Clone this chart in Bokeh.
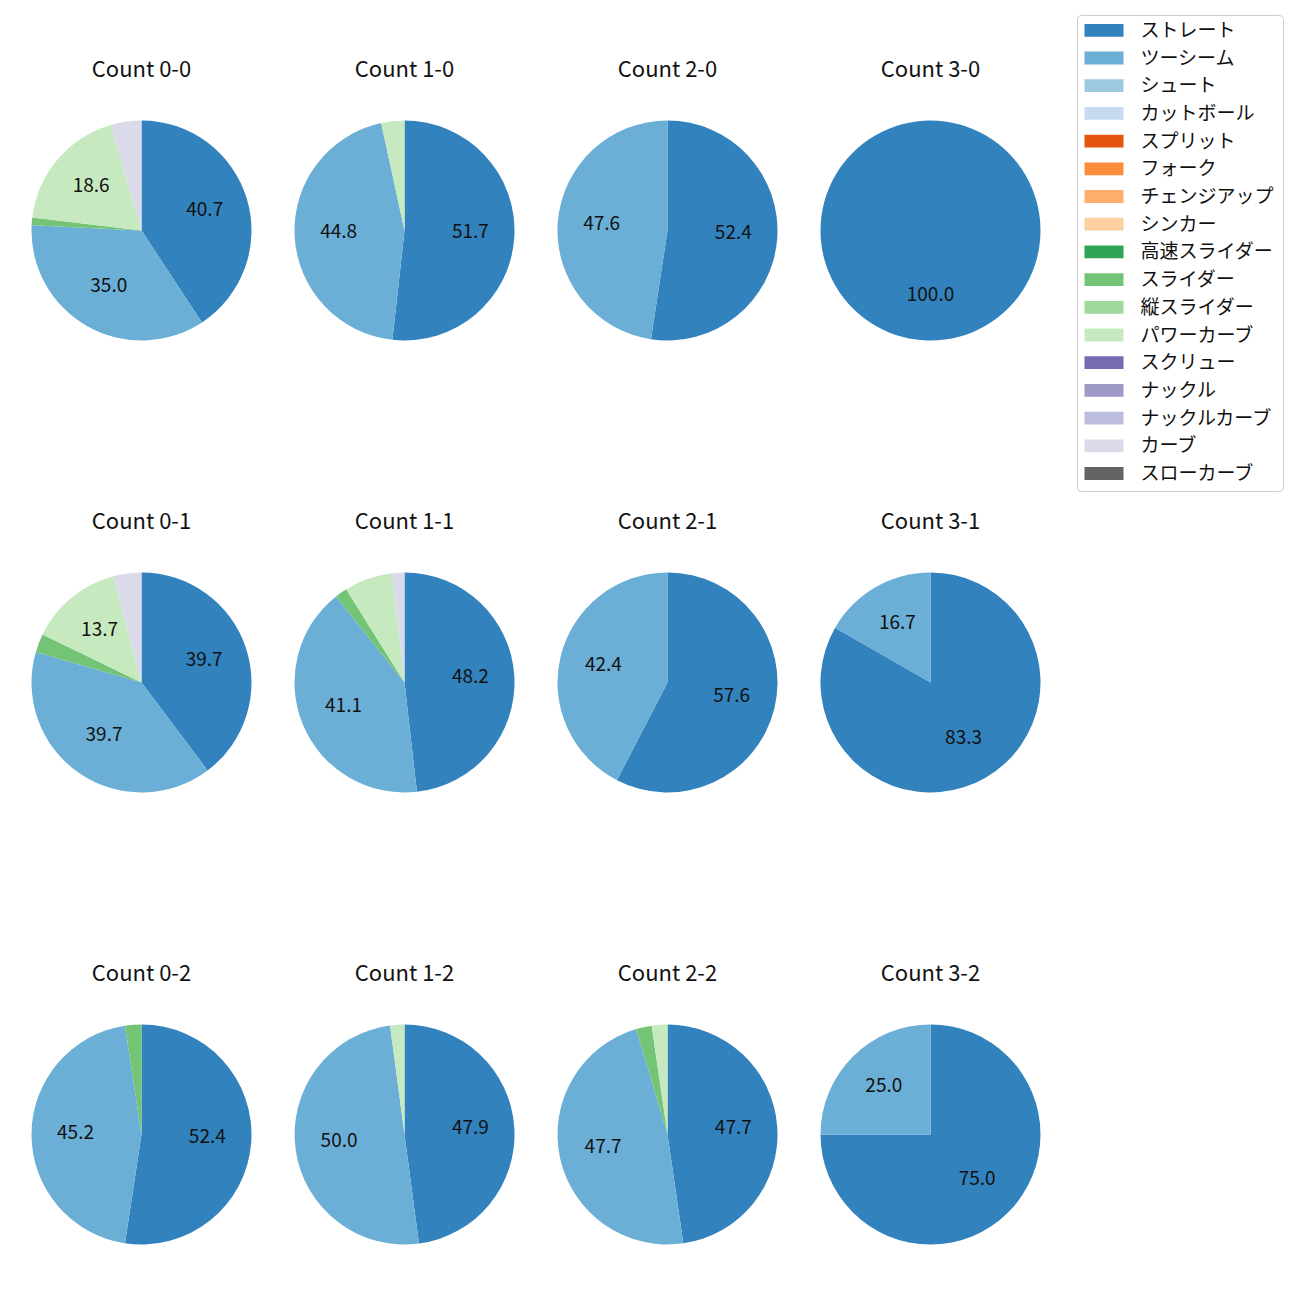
import math
from bokeh.plotting import figure
from bokeh.models import ColumnDataSource, Range1d
from bokeh.core.properties import value
from bokeh.embed import file_html
from bokeh.resources import INLINE

# ---------------- data ----------------
count_labels = ["0-0", "1-0", "2-0", "3-0",
                "0-1", "1-1", "2-1", "3-1",
                "0-2", "1-2", "2-2", "3-2"]

pitch_types = ["ストレート", "ツーシーム", "シュート", "カットボール", "スプリット",
               "フォーク", "チェンジアップ", "シンカー", "高速スライダー", "スライダー",
               "縦スライダー", "パワーカーブ", "スクリュー", "ナックル", "ナックルカーブ",
               "カーブ", "スローカーブ"]

pitch_colors = ["#3182bd", "#6baed6", "#9ecae1", "#c6dbef", "#e6550d",
                "#fd8d3c", "#fdae6b", "#fdd0a2", "#31a354", "#74c476",
                "#a1d99b", "#c7e9c0", "#756bb1", "#9e9ac8", "#bcbddc",
                "#dadaeb", "#636363"]

# share (%) of each pitch type per count, in count_labels order
straight    = [40.7, 51.7, 52.4, 100.0, 39.7, 48.2, 57.6, 83.3, 52.4, 47.9, 47.7, 75.0]
two_seam    = [35.0, 44.8, 47.6, 0.0, 39.7, 41.1, 42.4, 16.7, 45.2, 50.0, 47.7, 25.0]
slider      = [1.1, 0.0, 0.0, 0.0, 2.7, 1.8, 0.0, 0.0, 2.4, 0.0, 2.3, 0.0]
power_curve = [18.6, 3.4, 0.0, 0.0, 13.7, 7.1, 0.0, 0.0, 0.0, 2.1, 2.3, 0.0]
curve       = [4.5, 0.0, 0.0, 0.0, 4.1, 1.8, 0.0, 0.0, 0.0, 0.0, 0.0, 0.0]

zeros = [0.0] * len(count_labels)
shares = {name: zeros for name in pitch_types}
shares["ストレート"] = straight
shares["ツーシーム"] = two_seam
shares["スライダー"] = slider
shares["パワーカーブ"] = power_curve
shares["カーブ"] = curve

# ---------------- layout ----------------
FONT = value("Noto Sans CJK JP")
W = H = 1284
col_x = [141, 404, 667, 930]
row_y = [1300 - 230, 1300 - 682, 1300 - 1134]
R = 110
TITLE_OFF = 164
LABEL_MIN = 10.0
TEXT_NUDGE = 3

p = figure(width=W, height=H, x_range=Range1d(0, 1284), y_range=Range1d(16, 1300),
           output_backend="svg", toolbar_location=None,
           x_axis_location=None, y_axis_location=None, min_border=0,
           outline_line_color=None, background_fill_color="white",
           border_fill_color="white")
p.grid.visible = False

centers = []
for i, c in enumerate(count_labels):
    centers.append((col_x[i % 4], row_y[i // 4]))

totals = [sum(shares[n][i] for n in pitch_types) for i in range(len(count_labels))]

wedge_data = {n: dict(x=[], y=[], start=[], end=[]) for n in pitch_types}
lab = dict(x=[], y=[], text=[])
cum = [0.0] * len(count_labels)
for n in pitch_types:
    for i in range(len(count_labels)):
        v = shares[n][i]
        if v <= 0:
            continue
        tot = totals[i]
        a0 = math.pi / 2 - 2 * math.pi * cum[i] / tot
        cum[i] += v
        a1 = math.pi / 2 - 2 * math.pi * cum[i] / tot
        if a0 - a1 >= 2 * math.pi - 1e-9:
            a1 = a0 - 2 * math.pi + 1e-4
        cx, cy = centers[i]
        d = wedge_data[n]
        d["x"].append(cx); d["y"].append(cy)
        d["start"].append(a0); d["end"].append(a1)
        if v / tot * 100 >= LABEL_MIN:
            mid = (a0 + a1) / 2
            lab["x"].append(cx + 0.6 * R * math.cos(mid))
            lab["y"].append(cy + 0.6 * R * math.sin(mid) + TEXT_NUDGE)
            lab["text"].append(f"{v:.1f}")

for n, col in zip(pitch_types, pitch_colors):
    d = wedge_data[n]
    if not d["x"]:
        continue
    p.wedge(x="x", y="y", radius=R, start_angle="start", end_angle="end",
            direction="clock", fill_color=col, line_color=None,
            source=ColumnDataSource(d))

p.text(x="x", y="y", text="text", source=ColumnDataSource(lab),
       text_font=FONT, text_font_size="19px", text_color="#111111",
       text_align="center", text_baseline="middle")

# titles
tsrc = ColumnDataSource(dict(x=[c[0] for c in centers],
                             y=[c[1] + TITLE_OFF for c in centers],
                             text=[f"Count {c}" for c in count_labels]))
p.text(x="x", y="y", text="text", source=tsrc, text_font=FONT,
       text_font_size="22px", text_color="#111111",
       text_align="center", text_baseline="middle")

# legend
LEG_L, LEG_R, LEG_T, LEG_B = 1077, 1283, 1300 - 15, 1300 - 491
p.quad(left=[LEG_L], right=[LEG_R], top=[LEG_T], bottom=[LEG_B],
       fill_color="white", fill_alpha=0.8, line_color="#cccccc", line_width=1,
       border_radius=4)
ys = [1300 - (29.8 + 27.7 * k) for k in range(len(pitch_types))]
p.rect(x=[1103.5] * len(pitch_types), y=ys, width=39, height=12.8,
       fill_color=pitch_colors, line_color=None)
p.text(x=[1140] * len(pitch_types), y=[v + 2 for v in ys], text=pitch_types,
       text_font=FONT, text_font_size="19px", text_color="#111111",
       text_align="left", text_baseline="middle")

open("out.html", "w").write(file_html(p, INLINE))
